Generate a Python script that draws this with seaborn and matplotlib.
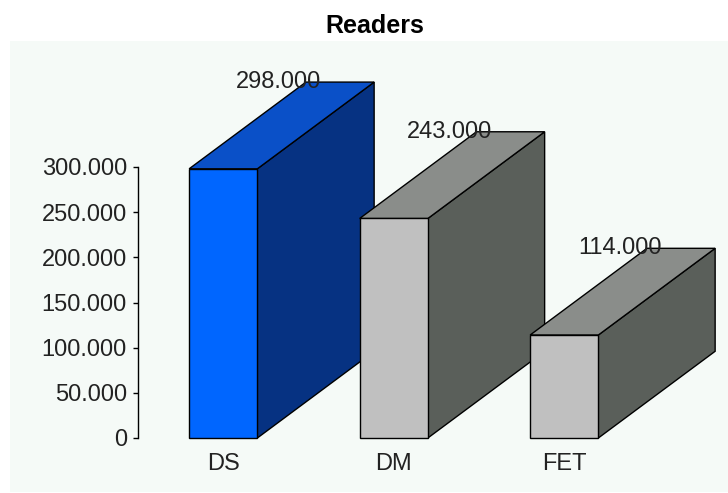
import matplotlib
matplotlib.use("Agg")
import matplotlib.pyplot as plt
from matplotlib.patches import Polygon, Rectangle
from matplotlib.ticker import FuncFormatter
import seaborn as sns

# Data
categories = ["DS", "DM", "FET"]
readers = [298000, 243000, 114000]
y_ticks = [0, 50000, 100000, 150000, 200000, 250000, 300000]

# Face colours per bar: front, top, side
front_colors = ["#0066ff", "#c0c0c0", "#c0c0c0"]
top_colors = ["#0a50c8", "#8a8d8a", "#8a8d8a"]
side_colors = ["#063282", "#5a5f5a", "#5a5f5a"]

sns.set_style("white")
plt.rcParams["font.family"] = ["Liberation Sans", "DejaVu Sans"]


def dotted_thousands(v, _pos=None):
    return f"{v:,.0f}".replace(",", ".")


W, H = 728, 493
fig = plt.figure(figsize=(W / 100, H / 100), dpi=100)
fig.patch.set_facecolor("white")

# light panel behind the plot
panel = Rectangle((10 / W, 1 / H), 1 - 10 / W, (492 - 41) / H,
                  transform=fig.transFigure, facecolor="#f5faf7",
                  edgecolor="none", zorder=-10)
fig.add_artist(panel)

ax = fig.add_axes([138 / W, (H - 438) / H, 3 * 170.5 / W, 271 / H])
ax.set_facecolor("none")
ax.set_zorder(1)

sns.barplot(x=categories, y=readers, hue=categories, palette=front_colors,
            legend=False, width=0.4, saturation=1, edgecolor="black",
            linewidth=1.0, ax=ax)

ax.set_xlim(-0.5, 2.5)
ax.set_ylim(0, 300000)

# extrusion depth (category units, value units)
DX, DY = 0.685, 96000

bars = sorted(ax.patches, key=lambda p: p.get_x())
for i, bar in enumerate(bars):
    x0 = bar.get_x()
    x1 = x0 + bar.get_width()
    v = bar.get_height()
    base = 3 * i + 2
    bar.set_zorder(base + 2)
    bar.set_clip_on(False)
    side = Polygon([(x1, 0), (x1 + DX, DY), (x1 + DX, v + DY), (x1, v)],
                   closed=True, facecolor=side_colors[i], edgecolor="black",
                   linewidth=1.0, zorder=base, clip_on=False)
    top = Polygon([(x0, v), (x0 + DX, v + DY), (x1 + DX, v + DY), (x1, v)],
                  closed=True, facecolor=top_colors[i], edgecolor="black",
                  linewidth=1.0, zorder=base + 1, clip_on=False)
    ax.add_patch(side)
    ax.add_patch(top)
    ax.text((x0 + x1) / 2 + 0.325, readers[i] + DY, dotted_thousands(readers[i]),
            ha="center", va="center", fontsize=17, color="#222222",
            zorder=20, clip_on=False)

# axes styling
for s in ["top", "right", "bottom"]:
    ax.spines[s].set_visible(False)
ax.spines["left"].set_color("black")
ax.spines["left"].set_linewidth(1.0)
ax.set_yticks(y_ticks)
ax.yaxis.set_major_formatter(FuncFormatter(dotted_thousands))
ax.tick_params(axis="y", left=True, length=3.5, width=1.0, color="black",
               pad=4.5, labelsize=17, labelcolor="#222222")
ax.tick_params(axis="x", bottom=False, length=0, pad=11, labelsize=17,
               labelcolor="#222222")
ax.set_xlabel("")
ax.set_ylabel("")

fig.text(375 / W, 1 - 26 / H, "Readers", ha="center", va="center",
         fontsize=18, fontweight="bold", color="black")

fig.savefig("out.png", dpi=100)
